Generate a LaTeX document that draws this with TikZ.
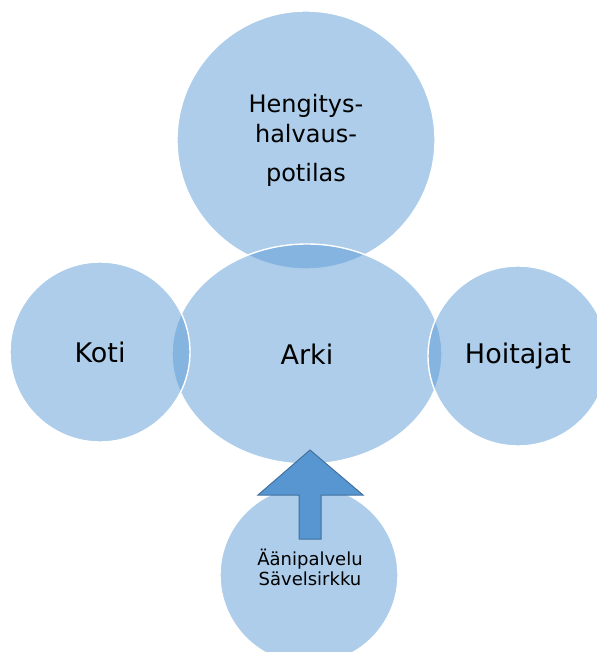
\documentclass[tikz,border=0pt]{standalone}
\usepackage{fontspec}
\setmainfont{DejaVu Sans}
\usetikzlibrary{shapes.geometric}
\definecolor{cfill}{RGB}{91,155,213}
\definecolor{arrowfill}{RGB}{88,150,210}
\definecolor{arrowline}{RGB}{65,113,156}
\tikzset{
  bubble/.style={circle, inner sep=0pt, fill=cfill, fill opacity=0.5, text opacity=1,
    draw=white, line width=1.4pt, text=black},
  lbl/.style={inner sep=0pt, align=center, text=black},
}
\begin{document}
\begin{tikzpicture}[x=1pt,y=-1pt]
\useasboundingbox (0,0) rectangle (596,652);
\node[bubble, minimum size=258pt, font=\fontsize{24}{30}\selectfont, align=center] (top) at (306,140)
  {Hengitys-\\halvaus-\\[9pt]potilas};
\node[bubble, ellipse, minimum width=270pt, minimum height=220pt, font=\fontsize{27}{32}\selectfont] (arki) at (307,354) {Arki};
\node[bubble, minimum size=180pt, font=\fontsize{27}{32}\selectfont] (koti) at (100,352) {Koti};
\node[bubble, minimum size=180pt, font=\fontsize{27}{32}\selectfont] (hoit) at (518,356) {Hoitajat};
\node[bubble, minimum size=178pt] (bot) at (309,575) {};
\node[lbl, font=\fontsize{18}{20}\selectfont] (botlbl) at (310,567) {Äänipalvelu\\Sävelsirkku};
\draw[fill=arrowfill, draw=arrowline, line width=1pt, line join=miter]
  (310,450) -- (363,495) -- (321,495) -- (321,539) -- (299,539) -- (299,495) -- (258,495) -- cycle;
\end{tikzpicture}
\end{document}
